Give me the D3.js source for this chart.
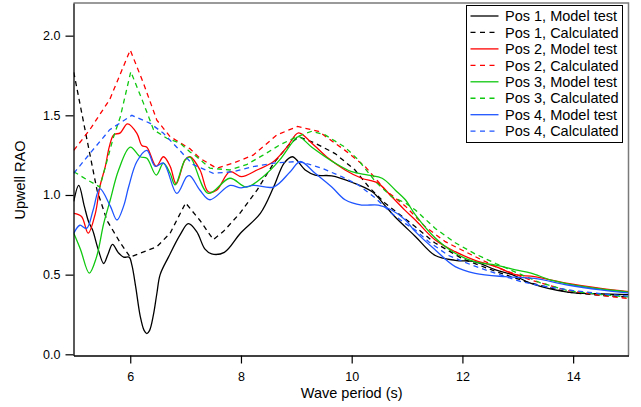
<!DOCTYPE html>
<html>
<head>
<meta charset="utf-8">
<script src="https://cdn.jsdelivr.net/npm/d3@7"></script>
<style>
  body { margin: 0; background: #fff; }
  text { font-family: "Liberation Sans", Arial, sans-serif; }
</style>
</head>
<body>
<div id="chart"></div>
<script>
// Data: [wave period (s), upwell RAO]
const pos1Model = [[4.98,0.96],[5.07,1.06],[5.17,0.93],[5.25,0.83],[5.32,0.78],[5.42,0.66],[5.52,0.57],[5.6,0.63],[5.68,0.69],[5.78,0.64],[5.88,0.61],[5.98,0.61],[6.03,0.56],[6.1,0.42],[6.18,0.24],[6.25,0.15],[6.3,0.13],[6.35,0.15],[6.42,0.25],[6.48,0.38],[6.54,0.5],[6.69,0.61],[6.9,0.75],[7.05,0.82],[7.2,0.77],[7.35,0.66],[7.47,0.63],[7.7,0.64],[7.99,0.76],[8.35,0.885],[8.59,1.05],[8.78,1.2],[8.93,1.24],[9.16,1.157],[9.34,1.125],[9.64,1.12],[10.0,1.08],[10.37,1.02],[10.61,0.93],[10.79,0.86],[11.15,0.74],[11.51,0.62],[11.87,0.59],[12.23,0.58],[12.6,0.53],[12.9,0.5],[13.24,0.445],[13.9,0.39],[14.44,0.38],[15.0,0.375]];
const pos1Calc = [[4.98,1.77],[5.2,1.38],[5.4,1.03],[5.58,0.84],[5.82,0.7],[6.0,0.61],[6.48,0.675],[6.72,0.76],[7.0,0.95],[7.26,0.84],[7.5,0.72],[7.68,0.77],[7.98,0.885],[8.29,1.03],[8.59,1.2],[8.89,1.325],[9.05,1.365],[9.34,1.325],[9.7,1.26],[10.06,1.157],[10.31,1.05],[10.6,0.95],[11.15,0.8],[11.5,0.7],[12.0,0.6],[12.6,0.52],[13.2,0.45],[13.9,0.39],[14.5,0.37],[15.0,0.36]];
const pos2Model = [[4.98,0.885],[5.12,0.865],[5.24,0.76],[5.37,0.885],[5.45,1.05],[5.55,1.18],[5.62,1.3],[5.7,1.377],[5.82,1.39],[5.95,1.446],[6.12,1.387],[6.21,1.31],[6.3,1.3],[6.47,1.18],[6.6,1.24],[6.72,1.18],[6.83,1.07],[6.99,1.22],[7.08,1.24],[7.26,1.157],[7.41,1.02],[7.56,1.03],[7.8,1.146],[8.01,1.115],[8.29,1.157],[8.59,1.21],[8.83,1.3],[9.04,1.39],[9.28,1.325],[9.58,1.23],[9.88,1.157],[10.18,1.105],[10.48,1.073],[10.72,0.99],[10.96,0.905],[11.15,0.843],[11.51,0.717],[11.87,0.644],[12.23,0.59],[12.6,0.55],[12.96,0.5],[13.3,0.487],[13.9,0.445],[14.5,0.414],[15.0,0.393]];
const pos2Calc = [[4.98,1.28],[5.27,1.41],[5.63,1.6],[6.0,1.91],[6.24,1.7],[6.48,1.47],[6.72,1.366],[7.08,1.29],[7.26,1.23],[7.56,1.168],[7.86,1.2],[8.22,1.25],[8.65,1.377],[9.02,1.43],[9.4,1.4],[9.88,1.28],[10.24,1.18],[10.61,1.03],[10.97,0.93],[11.33,0.8],[11.69,0.707],[12.05,0.644],[12.6,0.55],[13.2,0.47],[13.9,0.4],[14.5,0.37],[15.0,0.35]];
const pos3Model = [[4.98,0.76],[5.1,0.66],[5.26,0.51],[5.39,0.61],[5.52,0.82],[5.64,0.97],[5.79,1.157],[6.0,1.3],[6.18,1.24],[6.3,1.23],[6.47,1.125],[6.6,1.2],[6.72,1.136],[6.81,1.063],[6.99,1.22],[7.08,1.237],[7.41,1.01],[7.8,1.105],[8.1,1.05],[8.4,1.115],[8.7,1.22],[8.94,1.335],[9.04,1.366],[9.28,1.3],[9.7,1.2],[10.0,1.146],[10.3,1.125],[10.55,1.105],[10.79,1.03],[10.97,0.97],[11.15,0.875],[11.51,0.73],[11.87,0.634],[12.23,0.58],[12.6,0.56],[12.96,0.53],[13.24,0.51],[13.6,0.466],[14.2,0.424],[15.0,0.39]];
const pos3Calc = [[4.98,1.146],[5.2,1.1],[5.45,1.05],[5.7,1.366],[5.82,1.49],[6.01,1.774],[6.24,1.575],[6.42,1.41],[6.66,1.356],[6.9,1.325],[7.08,1.27],[7.2,1.24],[7.44,1.168],[7.8,1.157],[8.1,1.19],[8.4,1.25],[8.7,1.314],[9.01,1.366],[9.28,1.4],[9.52,1.377],[9.88,1.3],[10.12,1.22],[10.43,1.083],[10.72,0.99],[10.97,0.95],[11.15,0.906],[11.51,0.79],[11.87,0.7],[12.23,0.63],[12.6,0.57],[13.0,0.51],[13.4,0.45],[13.9,0.4],[14.5,0.375],[15.0,0.36]];
const pos4Model = [[4.98,0.76],[5.09,0.81],[5.21,0.79],[5.33,0.906],[5.45,1.04],[5.64,0.93],[5.76,0.843],[5.88,0.93],[5.97,1.05],[6.12,1.21],[6.3,1.28],[6.45,1.18],[6.6,1.2],[6.84,1.01],[7.02,1.115],[7.08,1.12],[7.26,1.03],[7.44,0.97],[7.8,1.06],[8.0,1.045],[8.23,1.06],[8.59,1.05],[8.89,1.146],[9.07,1.21],[9.34,1.136],[9.64,1.05],[9.88,0.97],[10.18,0.937],[10.48,0.937],[10.72,0.906],[10.97,0.843],[11.15,0.77],[11.51,0.655],[11.87,0.55],[12.23,0.508],[12.78,0.487],[13.3,0.477],[13.9,0.435],[14.5,0.404],[15.0,0.385]];
const pos4Calc = [[4.98,1.136],[5.27,1.26],[5.63,1.41],[6.03,1.5],[6.36,1.45],[6.6,1.387],[6.84,1.3],[7.08,1.21],[7.14,1.19],[7.5,1.136],[7.86,1.146],[8.22,1.178],[8.59,1.2],[9.01,1.21],[9.16,1.2],[9.46,1.168],[9.82,1.115],[10.12,1.063],[10.43,0.98],[10.72,0.885],[10.97,0.82],[11.15,0.78],[11.39,0.707],[11.75,0.62],[12.17,0.56],[12.6,0.508],[13.06,0.456],[13.42,0.43],[14.0,0.4],[14.5,0.38],[15.0,0.365]];

const seriesNames = ["Pos 1, Model test", "Pos 1, Calculated", "Pos 2, Model test", "Pos 2, Calculated",
  "Pos 3, Model test", "Pos 3, Calculated", "Pos 4, Model test", "Pos 4, Calculated"];
const seriesData = [pos1Model, pos1Calc, pos2Model, pos2Calc, pos3Model, pos3Calc, pos4Model, pos4Calc];
const xTicks = [6, 8, 10, 12, 14];
const yTicks = [0, 0.5, 1.0, 1.5, 2.0];

const colors = ["#000000", "#000000", "#ff0000", "#ff0000", "#0fc80f", "#0fc80f", "#1f55ff", "#1f55ff"];

const width = 641, height = 407;
const plot = { left: 73.5, right: 628.5, top: 3, bottom: 355.5 };

const svg = d3.select("#chart").append("svg")
  .attr("width", width)
  .attr("height", height);

const xScale = d3.scaleLinear().domain([4.975, 15.0]).range([plot.left, plot.right]);
const yScale = d3.scaleLinear().domain([-0.0075, 2.205]).range([plot.bottom, plot.top]);

svg.append("clipPath").attr("id", "clip")
  .append("rect")
  .attr("x", plot.left).attr("y", plot.top)
  .attr("width", plot.right - plot.left).attr("height", plot.bottom - plot.top);

// frame top/right (grey)
svg.append("path")
  .attr("d", `M${plot.left},${plot.top}H${plot.right}V${plot.bottom}`)
  .attr("fill", "none")
  .attr("stroke", "#7a7a7a")
  .attr("stroke-width", 1.5);

// lines
const model = d3.line().x(d => xScale(d[0])).y(d => yScale(d[1])).curve(d3.curveCatmullRom.alpha(0.5));
const calc = d3.line().x(d => xScale(d[0])).y(d => yScale(d[1]));

const lines = svg.append("g").attr("clip-path", "url(#clip)");
seriesData.forEach((data, i) => {
  const dashed = i % 2 === 1;
  lines.append("path")
    .datum(data)
    .attr("d", dashed ? calc : model)
    .attr("fill", "none")
    .attr("stroke", colors[i])
    .attr("stroke-width", 1.3)
    .attr("stroke-dasharray", dashed ? "5,4" : null);
});

// axes
const xAxis = d3.axisBottom(xScale).tickValues(xTicks).tickSize(8).tickPadding(8.5).tickSizeOuter(0);
const yAxis = d3.axisLeft(yScale).tickValues(yTicks).tickFormat(d3.format(".1f")).tickSize(8).tickPadding(5).tickSizeOuter(0);

const gx = svg.append("g").attr("transform", `translate(0,${plot.bottom})`).call(xAxis);
const gy = svg.append("g").attr("transform", `translate(${plot.left},0)`).call(yAxis);

[gx, gy].forEach(g => {
  g.select(".domain").attr("stroke", "#000").attr("stroke-width", 1.3);
  g.selectAll(".tick line").attr("stroke", "#000").attr("stroke-width", 1.2);
  g.selectAll(".tick text").attr("font-size", 12.5).attr("fill", "#000")
    .attr("font-family", "'Liberation Sans', Arial, sans-serif");
});

// axis titles
svg.append("text")
  .attr("x", xScale(10))
  .attr("y", 398)
  .attr("text-anchor", "middle")
  .attr("font-size", 14.5)
  .text("Wave period (s)");

svg.append("text")
  .attr("transform", "translate(25,180) rotate(-90)")
  .attr("text-anchor", "middle")
  .attr("font-size", 14.5)
  .text("Upwell RAO");

// legend
const legend = svg.append("g");
legend.append("rect")
  .attr("x", 466.5).attr("y", 5.5)
  .attr("width", 156).attr("height", 137)
  .attr("fill", "#fff")
  .attr("stroke", "#000")
  .attr("stroke-width", 1);

seriesNames.forEach((name, i) => {
  const y = 16 + i * 16.45;
  legend.append("line")
    .attr("x1", 470.5).attr("x2", 498.5)
    .attr("y1", y).attr("y2", y)
    .attr("stroke", colors[i])
    .attr("stroke-width", 1.3)
    .attr("stroke-dasharray", i % 2 === 1 ? "5,4.5" : null);
  legend.append("text")
    .attr("x", 505)
    .attr("y", y)
    .attr("dy", "0.36em")
    .attr("font-size", 14.5)
    .text(name);
});
</script>
</body>
</html>
